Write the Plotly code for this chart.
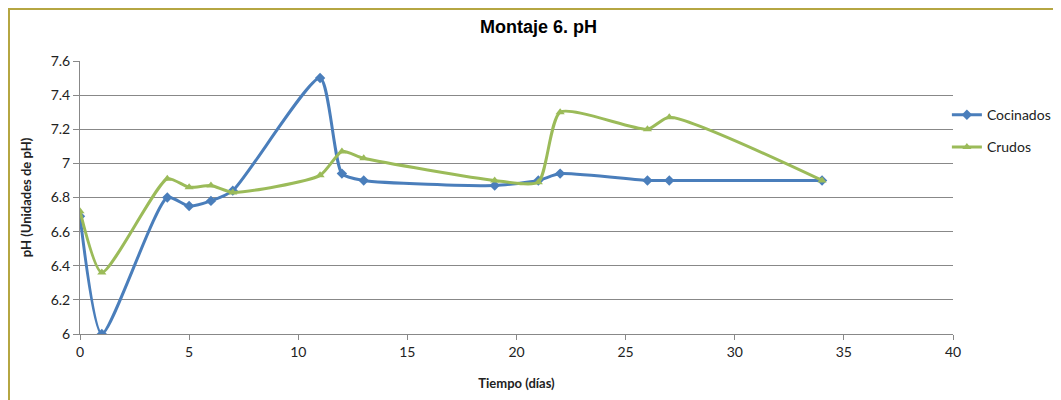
import plotly.graph_objects as go

dias_coc = [0, 1, 4, 5, 6, 7, 11, 12, 13, 19, 21, 22, 26, 27, 34]
ph_coc = [6.69, 6.00, 6.80, 6.75, 6.78, 6.84, 7.50, 6.94, 6.90, 6.87, 6.90, 6.94, 6.90, 6.90, 6.90]

dias_cru = [0, 1, 4, 5, 6, 7, 11, 12, 13, 19, 21, 22, 26, 27, 34]
ph_cru = [6.72, 6.36, 6.91, 6.86, 6.87, 6.83, 6.93, 7.07, 7.03, 6.90, 6.89, 7.30, 7.20, 7.27, 6.90]

x_ticks = [0, 5, 10, 15, 20, 25, 30, 35, 40]
y_ticks = [6, 6.2, 6.4, 6.6, 6.8, 7, 7.2, 7.4, 7.6]
y_labels = ["6", "6.2", "6.4", "6.6", "6.8", "7", "7.2", "7.4", "7.6"]

L, R, T, B = 72, 116, 53, 74
W, H = 1061, 400
pw, ph = W - L - R, H - T - B

fig = go.Figure()
fig.add_trace(go.Scatter(
    x=dias_coc, y=ph_coc, name="Cocinados", mode="lines+markers", legendgroup="coc",
    line=dict(color="#4a7ebb", width=3, shape="spline", smoothing=0.6),
    marker=dict(symbol="diamond", size=8, color="#4a7ebb"),
))
fig.add_trace(go.Scatter(
    x=dias_cru, y=ph_cru, name="Crudos", mode="lines+markers", legendgroup="cru",
    line=dict(color="#9bbb59", width=3, shape="spline", smoothing=0.6),
    marker=dict(symbol="triangle-up", size=8, color="#9bbb59"),
))

fig.update_layout(
    width=W, height=H,
    margin=dict(l=L, r=R, t=T, b=B),
    paper_bgcolor="white", plot_bgcolor="white",
    font=dict(family="Lato, Open Sans, sans-serif", size=14, color="#222"),
    title=dict(text="<b>Montaje 6. pH</b>", x=0.5, xanchor="center", y=1 - 19 / H, yanchor="middle",
               font=dict(family="Liberation Sans Narrow, Liberation Sans, Arial", size=18, color="#000")),
    legend=dict(x=0.993, y=0.86, xanchor="left", yanchor="top", bgcolor="rgba(0,0,0,0)",
                font=dict(size=14, color="#222"), tracegroupgap=11),
    shapes=[dict(type="rect", xref="paper", yref="paper",
                 x0=-(L - 1) / pw, x1=(pw + R + 20) / pw, y0=-(B + 20) / ph, y1=1 + (T - 1) / ph,
                 line=dict(color="#b5a642", width=2), fillcolor="rgba(0,0,0,0)", layer="below")],
)
fig.update_xaxes(
    range=[0, 40], tickvals=x_ticks, showgrid=False, zeroline=False,
    showline=True, linecolor="#888", linewidth=1, ticks="outside", ticklen=5, tickcolor="#888",
    tickfont=dict(size=14),
    title=dict(text="<b>Tiempo (días)</b>", font=dict(size=13, color="#222"), standoff=20),
)
fig.update_yaxes(
    range=[6, 7.6], tickvals=y_ticks, ticktext=y_labels, showgrid=True, gridcolor="#888", gridwidth=1,
    zeroline=False, showline=True, linecolor="#888", linewidth=1, ticks="outside", ticklen=6, tickcolor="#888",
    tickfont=dict(size=14),
    title=dict(text="<b>pH (Unidades de pH)</b>", font=dict(size=13, color="#222"), standoff=16),
)

fig.write_html("out.html")
